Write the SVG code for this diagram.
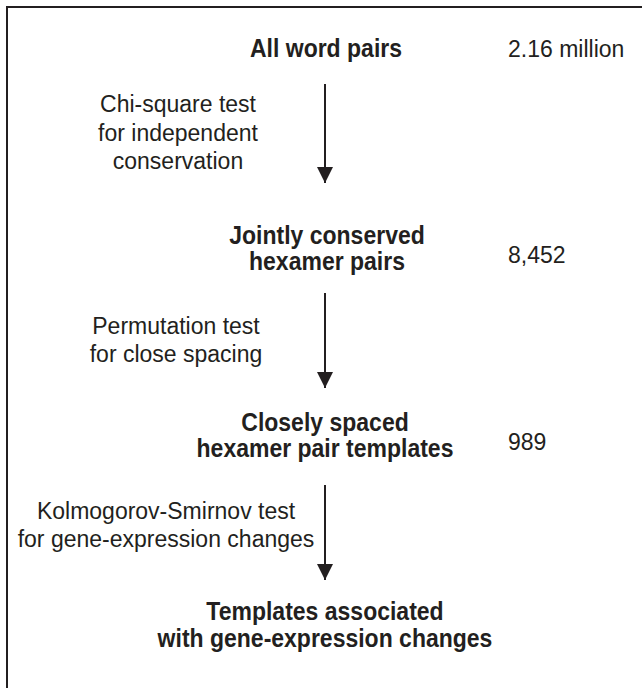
<svg xmlns="http://www.w3.org/2000/svg" width="642" height="688" viewBox="0 0 642 688">
  <style>
    .b { font-family: "Liberation Sans", Arial, sans-serif; font-weight: bold; font-size: 25px; fill: #231f20; text-anchor: middle; }
    .r { font-family: "Liberation Sans", Arial, sans-serif; font-size: 23px; fill: #231f20; text-anchor: middle; }
    .n { font-family: "Liberation Sans", Arial, sans-serif; font-size: 23px; fill: #231f20; }
    .arr { stroke: #231f20; stroke-width: 2; fill: none; }
  </style>
  <defs>
    <marker id="ah" markerWidth="8" markerHeight="8" refX="8" refY="4" orient="auto" markerUnits="strokeWidth">
      <path d="M0,0 L8,4 L0,8 Z" fill="#231f20"/>
    </marker>
  </defs>
  <rect width="642" height="688" fill="#ffffff"/>
  <path d="M7,688 L7,7 L642,7" fill="none" stroke="#231f20" stroke-width="2"/>

  <g id="node-all-word-pairs">
    <text class="b" transform="translate(326 57) scale(0.92 1)">All word pairs</text>
    <text class="n" x="508" y="57">2.16 million</text>
  </g>
  <g id="node-jointly-conserved">
    <text class="b" transform="translate(327 244) scale(0.92 1)">Jointly conserved</text>
    <text class="b" transform="translate(327 270) scale(0.92 1)">hexamer pairs</text>
    <text class="n" x="508" y="263">8,452</text>
  </g>
  <g id="node-closely-spaced">
    <text class="b" transform="translate(325 431) scale(0.92 1)">Closely spaced</text>
    <text class="b" transform="translate(325 457) scale(0.92 1)">hexamer pair templates</text>
    <text class="n" x="508" y="450">989</text>
  </g>
  <g id="node-templates-associated">
    <text class="b" transform="translate(325 620) scale(0.92 1)">Templates associated</text>
    <text class="b" transform="translate(325 647) scale(0.92 1)">with gene-expression changes</text>
  </g>

  <g id="connectors">
    <line class="arr" x1="325" y1="84" x2="325" y2="183" marker-end="url(#ah)"/>
    <line class="arr" x1="325" y1="293" x2="325" y2="388" marker-end="url(#ah)"/>
    <line class="arr" x1="325" y1="485" x2="325" y2="580" marker-end="url(#ah)"/>
    <g id="label-chi">
      <text class="r" x="178" y="112">Chi-square test</text>
      <text class="r" x="178" y="141">for independent</text>
      <text class="r" x="178" y="169">conservation</text>
    </g>
    <g id="label-perm">
      <text class="r" x="176" y="334">Permutation test</text>
      <text class="r" x="176" y="362">for close spacing</text>
    </g>
    <g id="label-ks">
      <text class="r" x="166" y="519">Kolmogorov-Smirnov test</text>
      <text class="r" x="166" y="547">for gene-expression changes</text>
    </g>
  </g>
</svg>
